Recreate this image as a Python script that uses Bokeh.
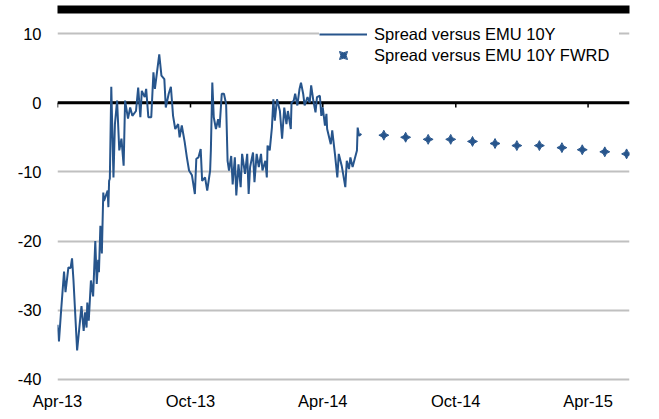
import numpy as np
import pandas as pd
from bokeh.plotting import figure
from bokeh.models import (FixedTicker, DatetimeTickFormatter, Range1d, Span, DatetimeAxis,
                          Legend, LegendItem, ColumnDataSource)
from bokeh.embed import file_html
from bokeh.resources import INLINE

# ---------------- data ----------------
spread_dates = [
    "2013-04-01", "2013-04-03", "2013-04-06", "2013-04-10", "2013-04-12", "2013-04-16", "2013-04-19", "2013-04-21", "2013-04-23", "2013-04-28",
    "2013-05-02", "2013-05-04", "2013-05-07", "2013-05-09", "2013-05-11", "2013-05-12", "2013-05-14", "2013-05-17", "2013-05-20", "2013-05-23", "2013-05-25", "2013-05-27", "2013-05-28", "2013-05-30",
    "2013-06-01", "2013-06-03", "2013-06-04", "2013-06-09", "2013-06-10", "2013-06-11", "2013-06-12", "2013-06-14", "2013-06-17", "2013-06-19", "2013-06-22", "2013-06-25", "2013-06-28",
    "2013-07-01", "2013-07-03", "2013-07-07", "2013-07-10", "2013-07-13", "2013-07-18", "2013-07-21", "2013-07-24", "2013-07-26", "2013-07-30",
    "2013-08-01", "2013-08-04", "2013-08-08", "2013-08-11", "2013-08-13", "2013-08-16", "2013-08-19", "2013-08-22", "2013-08-26", "2013-08-28",
    "2013-09-01", "2013-09-04", "2013-09-07", "2013-09-10", "2013-09-14", "2013-09-16", "2013-09-19", "2013-09-23", "2013-09-26", "2013-09-29",
    "2013-10-03", "2013-10-07", "2013-10-09", "2013-10-12", "2013-10-15", "2013-10-17", "2013-10-21", "2013-10-24", "2013-10-28", "2013-10-29", "2013-10-31",
    "2013-11-02", "2013-11-05", "2013-11-08", "2013-11-10", "2013-11-13", "2013-11-16", "2013-11-19", "2013-11-21", "2013-11-23", "2013-11-26", "2013-11-28",
    "2013-12-01", "2013-12-03", "2013-12-06", "2013-12-09", "2013-12-11", "2013-12-15", "2013-12-18", "2013-12-20", "2013-12-22", "2013-12-26", "2013-12-28", "2013-12-31",
    "2014-01-03", "2014-01-06", "2014-01-08", "2014-01-12", "2014-01-14", "2014-01-15", "2014-01-18", "2014-01-21", "2014-01-23", "2014-01-25", "2014-01-28",
    "2014-02-01", "2014-02-04", "2014-02-07", "2014-02-10", "2014-02-12", "2014-02-16", "2014-02-17", "2014-02-20", "2014-02-22", "2014-02-25", "2014-02-28",
    "2014-03-02", "2014-03-05", "2014-03-07", "2014-03-11", "2014-03-14", "2014-03-16", "2014-03-19", "2014-03-22", "2014-03-24", "2014-03-28", "2014-03-30",
    "2014-04-01", "2014-04-04", "2014-04-06", "2014-04-07", "2014-04-12", "2014-04-14", "2014-04-18", "2014-04-21", "2014-04-23", "2014-04-27", "2014-04-29",
    "2014-05-02", "2014-05-04", "2014-05-07", "2014-05-09", "2014-05-12", "2014-05-15", "2014-05-18", "2014-05-19", "2014-05-21", "2014-05-24",
]
spread_values = [
    -32.1, -34.5, -30.0, -24.4, -27.4, -23.8, -23.9, -22.5, -25.7, -35.8,
    -31.5, -29.4, -33.0, -30.3, -32.5, -28.9, -31.5, -25.7, -28.0, -20.0, -26.2, -22.7, -24.5, -17.8,
    -21.8, -13.0, -14.2, -12.7, -15.1, -11.3, -11.0, 2.3, -10.8, -3.1, 0.3, -6.9, -5.2,
    -9.1, 0.3, -2.3, -0.7, -1.9, -1.2, 2.2, -2.1, 1.7, 0.8,
    2.0, -2.1, -2.1, 4.4, 2.0, 4.5, 7.0, 3.9, 3.4, -0.7,
    1.3, 2.3, -1.9, -3.8, -3.1, -5.0, -3.3, -5.7, -7.9, -9.8,
    -10.5, -13.2, -8.1, -7.9, -6.7, -11.3, -10.8, -12.7, -9.8, -6.9, 2.9,
    -2.1, -3.8, -2.4, -3.6, 1.3, 1.3, -0.2, -8.4, -9.8, -7.7, -11.8,
    -7.9, -13.4, -8.9, -12.2, -7.4, -10.3, -7.4, -13.2, -9.3, -7.2, -11.5, -7.4,
    -9.3, -7.4, -9.8, -8.4, -10.8, -6.2, -6.9, -3.6, 0.5, -2.6, 0.5,
    -1.2, -5.2, -0.7, -3.1, -1.2, -3.8, 0.0, 0.3, 1.3, -0.4, 2.0,
    2.9, 1.3, -0.4, 0.8, 0.0, 2.5, 0.3, -1.4, 0.8, 1.0, -1.9,
    -0.7, -3.3, -1.6, -3.8, -6.0, -4.0, -7.7, -10.8, -7.4, -9.1, -10.3,
    -12.2, -8.4, -9.6, -7.9, -9.3, -8.1, -6.9, -3.6, -4.8, -4.5,
]
fwd_dates = ["2014-06-24", "2014-07-24", "2014-08-24", "2014-09-24", "2014-10-24", "2014-11-24",
             "2014-12-24", "2015-01-24", "2015-02-24", "2015-03-24", "2015-04-24", "2015-05-24"]
fwd_values = [-4.7, -5.0, -5.3, -5.3, -5.6, -5.9, -6.2, -6.2, -6.5, -6.8, -7.1, -7.4]

x_tick_dates = ["2013-04-01", "2013-10-01", "2014-04-01", "2014-10-01", "2015-04-01"]
y_ticks = [-40, -30, -20, -10, 0, 10]
x_start, x_end = "2013-04-01", "2015-05-28"
labels = ["Spread versus EMU 10Y", "Spread versus EMU 10Y FWRD"]

# ---------------- styling ----------------
BLUE = "#27558C"
FONT = "Liberation Sans"
FS = "16.5px"


def ms(d):
    return pd.Timestamp(d).value / 1e6


src_line = ColumnDataSource(dict(x=pd.to_datetime(spread_dates), y=spread_values))
src_fwd = ColumnDataSource(dict(x=pd.to_datetime(fwd_dates), y=fwd_values))

p = figure(width=659, height=418,
           x_axis_type="datetime", output_backend="svg", toolbar_location=None,
           x_range=Range1d(ms(x_start), ms(x_end)), y_range=Range1d(-40.3, 13.47),
           min_border_left=57, min_border_right=30, min_border_top=9, min_border_bottom=37)
p.outline_line_color = None
p.background_fill_color = "white"
p.border_fill_color = "white"

xt = [ms(d) for d in x_tick_dates]
fmt = DatetimeTickFormatter(months="%b-%y", days="%b-%y", years="%b-%y")

xa = p.xaxis[0]
xa.ticker = FixedTicker(ticks=xt)
xa.formatter = fmt
xa.axis_line_color = None
xa.major_tick_line_color = None
xa.minor_tick_line_color = None
xa.major_tick_out = 0
xa.major_tick_in = 0
xa.major_label_standoff = 10
xa.major_label_text_font = FONT
xa.major_label_text_font_size = FS
xa.major_label_text_color = "black"

# heavy black rule along the top of the exhibit (an unlabeled axis line)
top_rule = DatetimeAxis(ticker=FixedTicker(ticks=[]), axis_line_color="black", axis_line_width=8,
                        major_tick_out=0, major_tick_in=0, minor_tick_out=0, minor_tick_in=0,
                        major_tick_line_color=None, minor_tick_line_color=None,
                        major_label_standoff=0)
p.add_layout(top_rule, "above")

ya = p.yaxis[0]
ya.ticker = FixedTicker(ticks=y_ticks)
ya.major_label_overrides = {t: str(t) for t in y_ticks}
ya.axis_line_color = None
ya.major_tick_line_color = None
ya.minor_tick_line_color = None
ya.major_tick_out = 0
ya.major_tick_in = 0
ya.major_label_standoff = 16
ya.major_label_text_font = FONT
ya.major_label_text_font_size = FS
ya.major_label_text_color = "black"

p.xgrid.visible = False
p.ygrid.ticker = FixedTicker(ticks=y_ticks)
p.ygrid.grid_line_color = "#C0C0C0"
p.ygrid.grid_line_width = 1.8

# zero line with small downward tick marks at the date ticks
p.add_layout(Span(location=0, dimension="width", line_color="black", line_width=3, level="underlay"))
p.segment(x0=xt, y0=[0] * len(xt), x1=xt, y1=[-0.7] * len(xt), line_color="black", line_width=1.5)

r_line = p.line("x", "y", source=src_line, color=BLUE, line_width=2.0)
r_fwd = p.scatter("x", "y", source=src_fwd, marker="square_pin", size=7, angle=np.pi / 4,
                  fill_color=BLUE, line_color=BLUE)

legend = Legend(items=[LegendItem(label=labels[0], renderers=[r_line]),
                       LegendItem(label=labels[1], renderers=[r_fwd])],
                location=(262, 316), background_fill_color="white", background_fill_alpha=1,
                border_line_color=None, label_text_font=FONT, label_text_font_size=FS,
                label_text_color="black", glyph_width=48, glyph_height=20, label_height=20,
                label_width=245, spacing=1, padding=12, label_standoff=7, margin=0)
p.add_layout(legend)

open("out.html", "w").write(file_html(p, INLINE))
